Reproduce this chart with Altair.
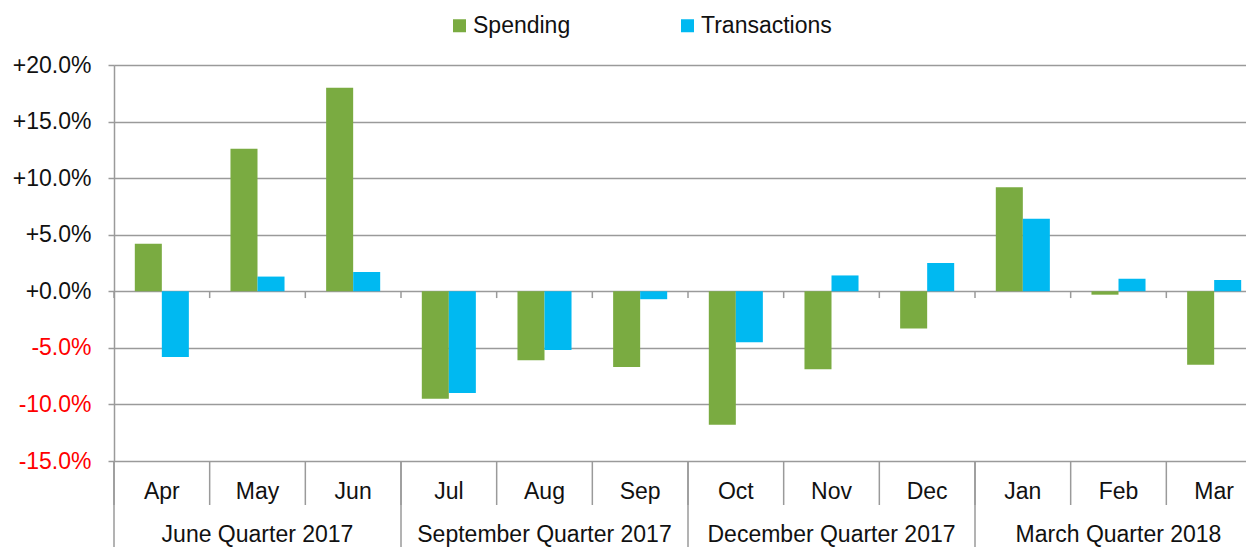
import altair as alt
import pandas as pd

months = ["Apr", "May", "Jun", "Jul", "Aug", "Sep", "Oct", "Nov", "Dec", "Jan", "Feb", "Mar"]
spending = [4.2, 12.6, 18.0, -9.5, -6.1, -6.7, -11.8, -6.9, -3.3, 9.2, -0.3, -6.5]
transactions = [-5.8, 1.3, 1.7, -9.0, -5.2, -0.7, -4.5, 1.4, 2.5, 6.4, 1.1, 1.0]
quarters = ["June Quarter 2017", "September Quarter 2017", "December Quarter 2017", "March Quarter 2018"]
quarter_centre_months = ["May", "Aug", "Nov", "Feb"]
quarter_start_months = ["Apr", "Jul", "Oct", "Jan"]
series = ["Spending", "Transactions"]
colors = ["#7aab41", "#00b9f1"]
y_ticks = [-15, -10, -5, 0, 5, 10, 15, 20]

rows = []
for i, m in enumerate(months):
    rows.append({"month": m, "series": "Spending", "value": spending[i]})
    rows.append({"month": m, "series": "Transactions", "value": transactions[i]})
bars_df = pd.DataFrame(rows)
months_df = pd.DataFrame({"month": months})
qstart_df = pd.DataFrame({"month": quarter_start_months})
q_df = pd.DataFrame({"month": quarter_centre_months, "quarter": quarters})

W, H = 1148, 396
FONT = "Liberation Sans"
FS = 23
GRID = "#9a9a9a"
TXT = "#111111"

x_scale = alt.Scale(domain=months, paddingInner=0, paddingOuter=0)
y_scale = alt.Scale(domain=[-15, 20], nice=False, zero=False)

bars = alt.Chart(bars_df).mark_bar().encode(
    x=alt.X("month:N", scale=x_scale, axis=None, sort=months),
    xOffset=alt.XOffset("series:N", scale=alt.Scale(domain=series, paddingOuter=0.77, paddingInner=0)),
    y=alt.Y(
        "value:Q",
        scale=y_scale,
        axis=alt.Axis(
            values=y_ticks,
            title=None,
            labelExpr="(datum.value < 0 ? '-' : '+') + format(abs(datum.value), '.1f') + '%'",
            labelColor={"condition": {"test": "datum.value < 0", "value": "#ff0000"}, "value": TXT},
            labelFont=FONT,
            labelFontSize=FS,
            labelPadding=17,
            tickSize=6,
            tickColor=GRID,
            tickWidth=1.5,
            domainColor=GRID,
            domainWidth=1.5,
            gridColor=GRID,
            gridWidth=1.4,
        ),
    ),
    color=alt.Color(
        "series:N",
        scale=alt.Scale(domain=series, range=colors),
        legend=alt.Legend(
            orient="none",
            legendX=334,
            legendY=-51,
            direction="horizontal",
            title=None,
            symbolType="square",
            symbolSize=169,
            symbolStrokeWidth=0,
            labelFont=FONT,
            labelFontSize=FS,
            labelColor=TXT,
            labelOffset=2,
            columnPadding=105,
            padding=0,
        ),
    ),
)

month_seps = alt.Chart(months_df).mark_rule(color=GRID, strokeWidth=1.5).encode(
    x=alt.X("month:N", bandPosition=0, scale=x_scale, sort=months),
    y=alt.value(H),
    y2=alt.value(H + 44),
)

zero_ticks = alt.Chart(months_df).mark_rule(color=GRID, strokeWidth=1.5).encode(
    x=alt.X("month:N", bandPosition=0, scale=x_scale, sort=months),
    y=alt.datum(0),
    y2=alt.datum(-0.6),
)

quarter_seps = alt.Chart(qstart_df).mark_rule(color=GRID, strokeWidth=1.5).encode(
    x=alt.X("month:N", bandPosition=0, scale=x_scale, sort=months),
    y=alt.value(H),
    y2=alt.value(H + 90),
)

month_labels = alt.Chart(months_df).mark_text(
    font=FONT, fontSize=FS, color=TXT, baseline="alphabetic"
).encode(
    x=alt.X("month:N", scale=x_scale, sort=months),
    y=alt.value(H + 38),
    text="month:N",
)

quarter_labels = alt.Chart(q_df).mark_text(
    font=FONT, fontSize=FS, color=TXT, baseline="alphabetic"
).encode(
    x=alt.X("month:N", scale=x_scale, sort=months),
    y=alt.value(H + 81),
    text="quarter:N",
)

chart = alt.layer(
    bars, zero_ticks, month_seps, quarter_seps, month_labels, quarter_labels
).properties(
    width=W,
    height=H,
    autosize=alt.AutoSizeParams(type="none"),
    padding={"left": 106, "top": 57, "right": -16, "bottom": 86},
).configure_view(stroke=None).configure(background="white")

chart.save("out.html", embed_options={"renderer": "svg", "actions": False})
